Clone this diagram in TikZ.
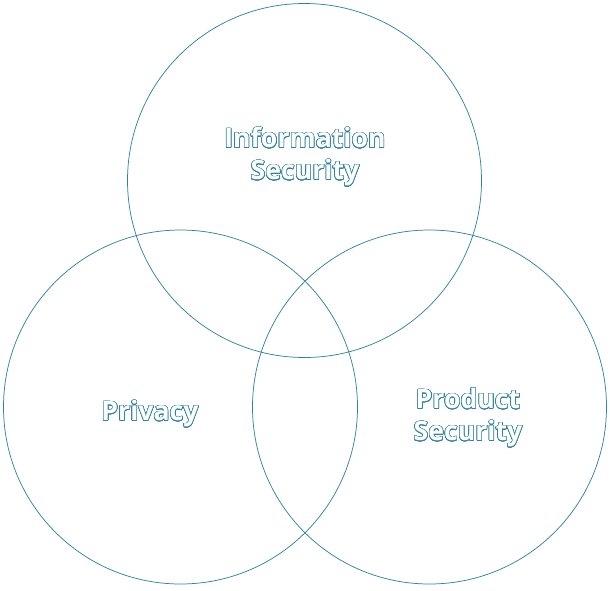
\documentclass[tikz,border=0pt]{standalone}
\usepackage{fontspec}
\setmainfont{Open Sans}
\usepackage{contour}
\contourlength{0.45pt}
\contournumber{24}
\definecolor{vennline}{RGB}{48,130,160}
\tikzset{
	venncircle/.style={draw=vennline,line width=0.55pt},
	vennlabel/.style={align=center,font=\bfseries\fontsize{20}{24}\selectfont,text=white}
}
\begin{document}
\begin{tikzpicture}[x=0.75pt,y=0.75pt,yscale=-1,xscale=1]
	\path[use as bounding box] (0,0) rectangle (610,590); %set diagram size
	
	% Circle
	\draw[venncircle] (304.5,180.5) circle (177);
	% Circle
	\draw[venncircle] (180.5,407) circle (177);
	% Circle
	\draw[venncircle] (429.5,407) circle (177);
	
	% Text Node
	\draw (305,157) node[vennlabel] (infosec) {\contour{vennline}{Information}\\\contour{vennline}{Security}};
	% Text Node
	\draw (150,414) node[vennlabel] (privacy) {\contour{vennline}{Privacy}};
	% Text Node
	\draw (468,418) node[vennlabel] (prodsec) {\contour{vennline}{Product}\\\contour{vennline}{Security}};
	
\end{tikzpicture}
\end{document}
